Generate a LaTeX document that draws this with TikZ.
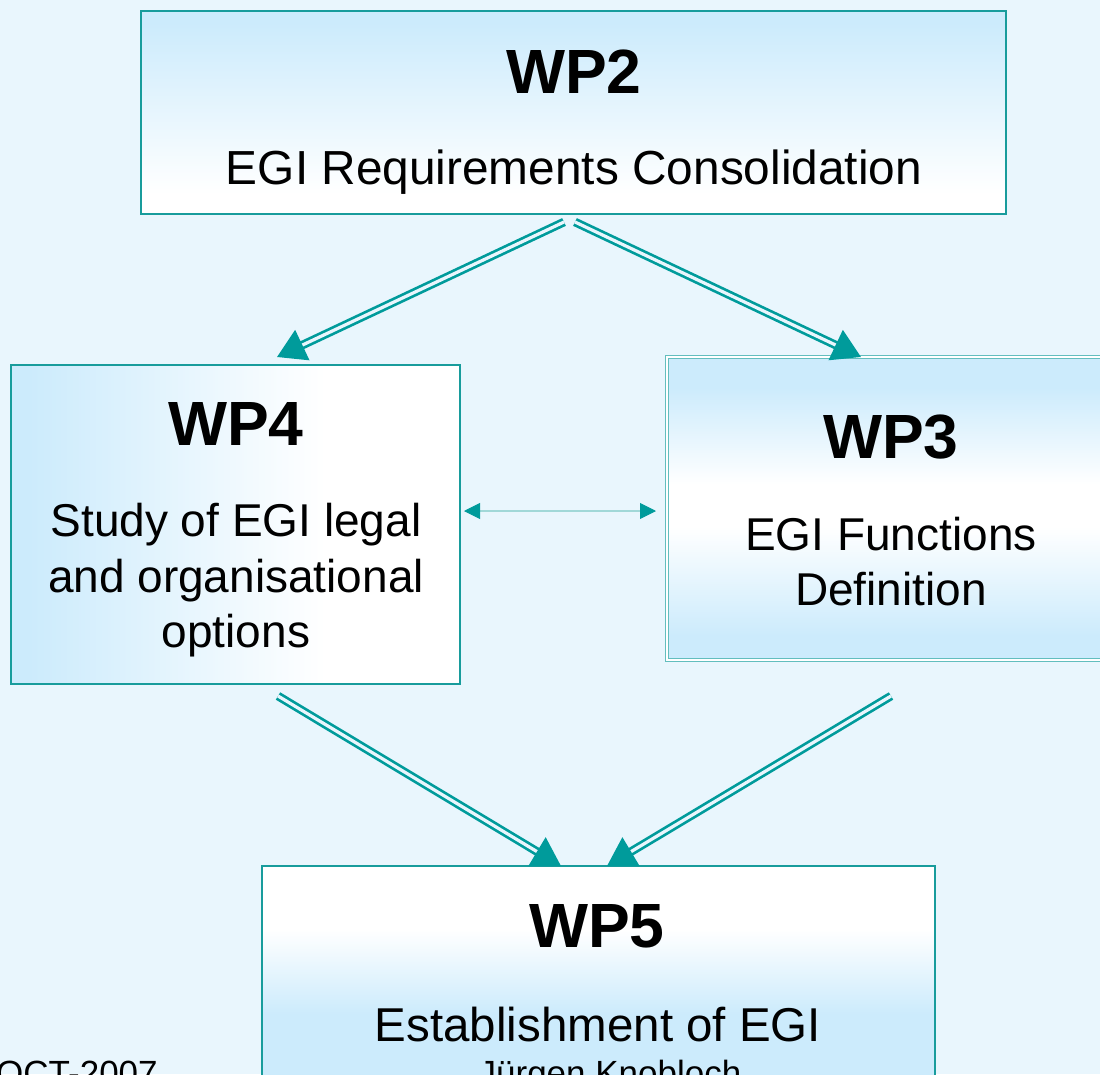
\documentclass[tikz,border=0pt]{standalone}
\usepackage{fontspec}
\setmainfont{Liberation Sans}
\usetikzlibrary{arrows.meta}
\definecolor{bg}{HTML}{E9F6FD}
\definecolor{wpblue}{HTML}{CCEBFC}
\definecolor{tealfill}{HTML}{009B9B}
\definecolor{tealborder}{HTML}{189C9C}
\definecolor{teallight}{HTML}{62BEBE}
\pgfdeclareverticalshading{shadetwo}{100bp}{color(0bp)=(white); color(30bp)=(white); color(72bp)=(wpblue); color(100bp)=(wpblue)}
\pgfdeclarehorizontalshading{shadefour}{100bp}{color(0bp)=(wpblue); color(27bp)=(wpblue); color(60bp)=(white); color(100bp)=(white)}
\pgfdeclareverticalshading{shadethree}{100bp}{color(0bp)=(wpblue); color(29bp)=(wpblue); color(47bp)=(white); color(54bp)=(white); color(70bp)=(wpblue); color(100bp)=(wpblue)}
\pgfdeclareverticalshading{shadefive}{100bp}{color(0bp)=(wpblue); color(47bp)=(wpblue); color(63bp)=(white); color(100bp)=(white)}
\begin{document}
\begin{tikzpicture}[x=1pt,y=-1pt,
  box/.style={rectangle, inner sep=0pt, outer sep=0pt, draw=tealborder, line width=2.5pt},
  title/.style={font=\fontsize{62.5}{70}\selectfont\bfseries, anchor=base, inner sep=0pt},
  body/.style={font=\fontsize{46}{56}\selectfont, anchor=base, inner sep=0pt},
  small/.style={font=\fontsize{35}{42}\selectfont, inner sep=0pt},
  flow/.style={draw=tealfill, line width=2.7pt, double=bg, double distance=3.2pt,
    -{Triangle[length=28pt,width=33pt]}},
  link/.style={draw=tealfill, line width=0.9pt, double=teallight!60, double distance=1.1pt,
    {Triangle[length=16pt,width=16pt]}-{Triangle[length=16pt,width=16pt]}}]
\useasboundingbox (0,0) rectangle (1100,1074);
\clip (0,0) rectangle (1100,1074);
\fill[bg] (0,0) rectangle (1100,1074);

% boxes
\node[box, shading=shadetwo, minimum width=865pt, minimum height=203pt] (wp2) at (573.5,112.5) {};
\node[box, shading=shadefour, line width=2.3pt, minimum width=449pt, minimum height=319pt] (wp4) at (235.5,524.5) {};
\node[box, shading=shadethree, draw=teallight, line width=1pt, double=white, double distance=1.4pt, minimum width=448pt, minimum height=303pt] (wp3) at (891,508.5) {};
\node[box, shading=shadefive, line width=2pt, minimum width=673pt, minimum height=264pt] (wp5) at (598.5,998) {};

% texts
\node[title] (t2) at (574,93) {WP2};
\node[body, font=\fontsize{47.8}{56}\selectfont] (b2) at (574,184) {EGI Requirements Consolidation};

\node[title] (t4) at (236,445) {WP4};
\node[body] (b4a) at (236,536) {Study of EGI legal};
\node[body] (b4b) at (236,592) {and organisational};
\node[body] (b4c) at (236,647) {options};

\node[title] (t3) at (891,458) {WP3};
\node[body] (b3a) at (891,550) {EGI Functions};
\node[body] (b3b) at (891,605) {Definition};

\node[title] (t5) at (597,947) {WP5};
\node[body, font=\fontsize{47.5}{56}\selectfont] (b5) at (598,1041) {Establishment of EGI};
\node[small, anchor=base] (author) at (610,1085) {Jürgen Knobloch};
\node[small, anchor=base west] (date) at (-4,1085) {OCT-2007};

% connector end points
\coordinate (s1) at (564,222);
\coordinate (e1) at (277,357);
\coordinate (s2) at (575,222);
\coordinate (e2) at (861,357);
\coordinate (s3) at (278,696);
\coordinate (e3) at (561,866);
\coordinate (s4) at (891,696);
\coordinate (e4) at (607,866);
\coordinate (l1) at (464,511);
\coordinate (l2) at (656,511);

\draw[flow] (s1) -- (e1);
\draw[flow] (s2) -- (e2);
\draw[flow] (s3) -- (e3);
\draw[flow] (s4) -- (e4);
\draw[link] (l1) -- (l2);
\end{tikzpicture}
\end{document}
